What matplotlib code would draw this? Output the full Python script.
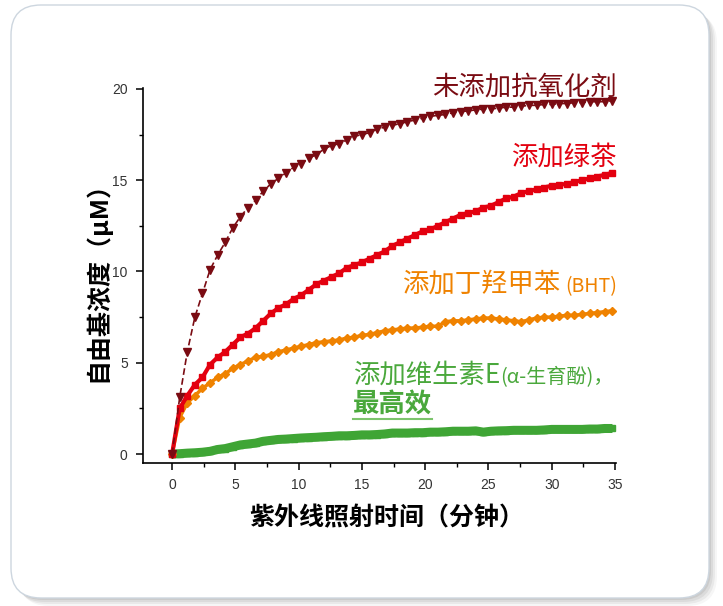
import numpy as np
import matplotlib.pyplot as plt
from matplotlib.patches import FancyBboxPatch
from matplotlib.transforms import IdentityTransform
from matplotlib.lines import Line2D
from matplotlib.ticker import MultipleLocator

plt.rcParams['font.family'] = ['Noto Sans CJK SC', 'DejaVu Sans']

# time axis (minutes), one reading every 0.6 min
t = np.arange(59) * 0.6

no_antiox = [0.0, 3.1, 5.6, 7.5, 8.8, 10.1, 10.9, 11.6, 12.4, 13.0,
             13.5, 13.9, 14.4, 14.8, 15.1, 15.4, 15.7, 15.9, 16.2, 16.4,
             16.7, 16.9, 17.0, 17.2, 17.4, 17.5, 17.6, 17.8, 17.9, 18.0,
             18.1, 18.2, 18.3, 18.4, 18.5, 18.55, 18.6, 18.7, 18.75, 18.8,
             18.85, 18.9, 18.9, 18.95, 19.0, 19.0, 19.05, 19.1, 19.1, 19.15,
             19.15, 19.2, 19.2, 19.25, 19.25, 19.3, 19.3, 19.3, 19.35]

green_tea = [0.0, 2.5, 3.2, 3.8, 4.2, 4.9, 5.3, 5.6, 6.0, 6.4,
             6.6, 6.9, 7.3, 7.7, 8.0, 8.2, 8.5, 8.7, 9.0, 9.3,
             9.5, 9.7, 9.9, 10.2, 10.35, 10.5, 10.7, 10.9, 11.1, 11.4,
             11.6, 11.8, 12.0, 12.2, 12.3, 12.5, 12.7, 12.9, 13.1, 13.2,
             13.3, 13.5, 13.6, 13.8, 14.0, 14.1, 14.3, 14.4, 14.5, 14.6,
             14.7, 14.75, 14.8, 14.9, 15.0, 15.1, 15.2, 15.3, 15.4]

bht = [0.0, 2.0, 2.8, 3.2, 3.6, 3.9, 4.2, 4.4, 4.7, 4.9,
       5.1, 5.3, 5.35, 5.45, 5.6, 5.7, 5.8, 5.9, 6.0, 6.1,
       6.15, 6.2, 6.25, 6.35, 6.4, 6.5, 6.55, 6.65, 6.75, 6.8,
       6.85, 6.9, 6.9, 6.95, 7.0, 7.0, 7.25, 7.3, 7.3, 7.35,
       7.4, 7.45, 7.45, 7.4, 7.35, 7.3, 7.25, 7.35, 7.45, 7.5,
       7.5, 7.55, 7.6, 7.6, 7.65, 7.7, 7.75, 7.8, 7.85]

vit_e = [0.0, 0.02, 0.05, 0.07, 0.1, 0.15, 0.25, 0.3, 0.4, 0.5,
         0.55, 0.6, 0.7, 0.75, 0.8, 0.82, 0.85, 0.88, 0.9, 0.92,
         0.95, 0.97, 1.0, 1.0, 1.02, 1.05, 1.05, 1.07, 1.1, 1.15,
         1.15, 1.15, 1.17, 1.17, 1.2, 1.2, 1.22, 1.25, 1.25, 1.25,
         1.27, 1.2, 1.25, 1.27, 1.28, 1.3, 1.3, 1.3, 1.3, 1.32,
         1.35, 1.35, 1.35, 1.35, 1.35, 1.37, 1.37, 1.4, 1.4]

c_dark = '#7a0b12'
c_red = '#e3000f'
c_orange = '#ef8200'
c_green = '#3fa535'
c_green_txt = '#4aa83c'

W, H = 723, 606
fig = plt.figure(figsize=(W / 100, H / 100), dpi=100)

# card with soft shadow, kept behind the axes
for off, a in [(8, 0.035), (6, 0.05), (4, 0.06), (2, 0.07)]:
    fig.patches.append(FancyBboxPatch((11 + off, 8 - off), 698, 593,
                                      boxstyle='round,pad=0,rounding_size=30',
                                      transform=IdentityTransform(),
                                      fc='#000000', ec='none', alpha=a, zorder=-3))
fig.patches.append(FancyBboxPatch((11, 8), 698, 593,
                                  boxstyle='round,pad=0,rounding_size=30',
                                  transform=IdentityTransform(),
                                  fc='white', ec='#cdd6df', lw=1, zorder=-2))

ax = fig.add_axes([143 / W, (H - 463) / H, (616 - 143) / W, (463 - 88) / H])
ax.set_zorder(1)
ax.patch.set_alpha(0)

ax.plot(t, vit_e, color=c_green, lw=6.5, marker='s', ms=5, solid_capstyle='butt', zorder=2)
ax.plot(t, bht, color=c_orange, lw=2.5, marker='D', ms=4.5, zorder=3)
ax.plot(t, green_tea, color=c_red, lw=3, marker='s', ms=5, zorder=4)
ax.plot(t, no_antiox, color=c_dark, lw=1.2, ls=(0, (4, 2)), marker='v', ms=5.5, zorder=5)

ax.set_xlim(-2.3, 35.08)
ax.set_ylim(-0.49, 20.05)
ax.xaxis.set_major_locator(MultipleLocator(5))
ax.xaxis.set_minor_locator(MultipleLocator(2.5))
ax.yaxis.set_major_locator(MultipleLocator(5))
ax.yaxis.set_minor_locator(MultipleLocator(2.5))
for s in ['top', 'right']:
    ax.spines[s].set_visible(False)
for s in ['left', 'bottom']:
    ax.spines[s].set_linewidth(1.2)
ax.tick_params(which='major', direction='out', length=5, width=1.1,
               labelsize=10, labelcolor='#333333', pad=6)
ax.tick_params(which='minor', direction='out', length=3, width=1.0)
for lab in ax.get_xticklabels() + ax.get_yticklabels():
    lab.set_fontfamily('Liberation Sans')


def put(x, y, s, **kw):
    return fig.text(x / W, 1 - y / H, s, **kw)


put(97, 276, '自由基浓度（μM）', rotation=90, ha='center', va='center',
    fontsize=18, weight='bold', color='black')
put(387, 518, '紫外线照射时间（分钟）', ha='center', va='center',
    fontsize=18, weight='bold', color='black')

put(617, 95, '未添加抗氧化剂', ha='right', va='baseline', fontsize=19, color=c_dark)
put(617, 165, '添加绿茶', ha='right', va='baseline', fontsize=19, color=c_red)
put(617, 292, '(BHT)', ha='right', va='baseline', fontsize=14, color=c_orange)
put(560, 292, '添加丁羟甲苯', ha='right', va='baseline', fontsize=19, color=c_orange)
put(353, 383, '添加维生素E', ha='left', va='baseline', fontsize=19, color=c_green_txt)
put(500, 383, '(α-生育酚)，', ha='left', va='baseline', fontsize=14.5, color=c_green_txt)
put(353, 413, '最高效', ha='left', va='baseline', fontsize=19, weight='bold', color=c_green_txt)
fig.add_artist(Line2D([353 / W, 432 / W], [1 - 419 / H] * 2, color='#7cc46c', lw=1.5))

fig.savefig('out.png')
